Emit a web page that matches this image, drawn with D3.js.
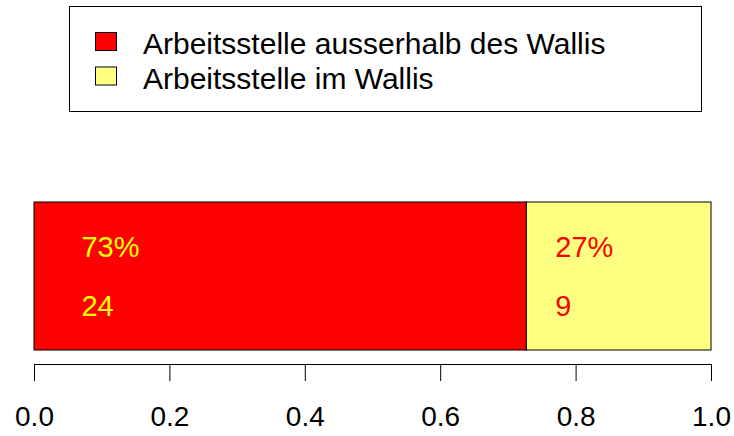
<!DOCTYPE html>
<html>
<head>
<meta charset="utf-8">
<script src="https://cdn.jsdelivr.net/npm/d3@7"></script>
<style>
  body { margin: 0; background: #fff; }
  text { font-family: "Liberation Sans", Arial, sans-serif; }
</style>
</head>
<body>
<svg id="chart"></svg>
<script>
// data
let categories = ['Arbeitsstelle ausserhalb des Wallis', 'Arbeitsstelle im Wallis'];
let counts = [24, 9];
let labelPos = [0.07, 0.77];   // where the % / count labels sit, in axis units
let colors = ['#ff0000', '#ffff80'];
let labelColors = ['#ffff00', '#ff0000'];
let ticks = [0, 0.2, 0.4, 0.6, 0.8, 1.0];

let width = 734;
let height = 436;

let svg = d3.select('#chart').attr('width', width).attr('height', height);

let total = d3.sum(counts);
let shares = counts.map(c => c / total);
let starts = [];
let acc = 0;
shares.forEach(s => { starts.push(acc); acc += s; });

let xScale = d3.scaleLinear().domain([0, 1]).range([34, 711]);
let barTop = 202;
let barBottom = 350;

// bars
svg.selectAll('rect.bar')
  .data(shares)
  .enter()
  .append('rect')
  .attr('class', 'bar')
  .attr('x', (d, i) => xScale(starts[i]))
  .attr('y', barTop)
  .attr('width', (d, i) => xScale(starts[i] + d) - xScale(starts[i]))
  .attr('height', barBottom - barTop)
  .attr('fill', (d, i) => colors[i])
  .attr('stroke', '#000')
  .attr('stroke-width', 1);

// percent and count labels
svg.selectAll('text.pct')
  .data(shares)
  .enter()
  .append('text')
  .attr('class', 'pct')
  .attr('x', (d, i) => xScale(labelPos[i]))
  .attr('y', 257)
  .attr('font-size', 29)
  .attr('fill', (d, i) => labelColors[i])
  .text(d => Math.round(d * 100) + '%');

svg.selectAll('text.cnt')
  .data(counts)
  .enter()
  .append('text')
  .attr('class', 'cnt')
  .attr('x', (d, i) => xScale(labelPos[i]))
  .attr('y', 316)
  .attr('font-size', 29)
  .attr('fill', (d, i) => labelColors[i])
  .text(d => d);

// axis
let xAxis = d3.axisBottom(xScale)
  .tickValues(ticks)
  .tickFormat(d3.format('.1f'))
  .tickSize(17)
  .tickSizeOuter(0)
  .tickPadding(25);

let axisG = svg.append('g')
  .attr('transform', 'translate(0,' + 364 + ')')
  .call(xAxis);
axisG.select('.domain').attr('stroke', '#000');
axisG.selectAll('.tick line').attr('stroke', '#000');
axisG.selectAll('.tick text')
  .attr('font-size', 28)
  .attr('font-family', '"Liberation Sans", Arial, sans-serif')
  .attr('fill', '#000');

// legend
let legend = svg.append('g');
legend.append('rect')
  .attr('x', 69.5).attr('y', 6.5)
  .attr('width', 632).attr('height', 105)
  .attr('fill', 'none').attr('stroke', '#000');

let legendRows = legend.selectAll('g.row')
  .data(categories)
  .enter()
  .append('g')
  .attr('class', 'row')
  .attr('transform', (d, i) => 'translate(0,' + (i * 34.5) + ')');

legendRows.append('rect')
  .attr('x', 95.5).attr('y', 32.5)
  .attr('width', 21).attr('height', 18)
  .attr('fill', (d, i) => colors[i])
  .attr('stroke', '#000');

legendRows.append('text')
  .attr('x', 143)
  .attr('y', 54)
  .attr('font-size', 30)
  .attr('fill', '#000')
  .text(d => d);
</script>
</body>
</html>
